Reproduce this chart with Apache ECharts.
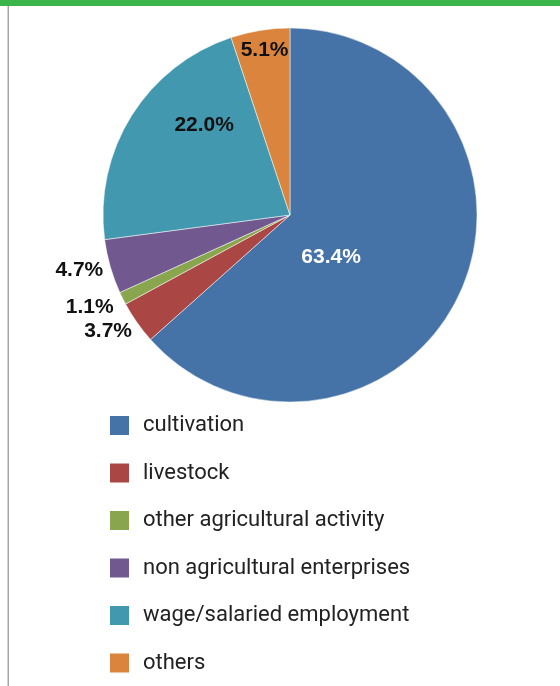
<!DOCTYPE html>
<html>
<head>
<meta charset="utf-8">
<script src="https://cdn.jsdelivr.net/npm/echarts@6/dist/echarts.min.js"></script>
<style>
  html, body { margin: 0; padding: 0; background: #fff; }
  #main { width: 560px; height: 686px; }
</style>
</head>
<body>
<div id="main"></div>
<script>
// 数据
var categories = ['cultivation', 'livestock', 'other agricultural activity',
                  'non agricultural enterprises', 'wage/salaried employment', 'others'];
var shares = [63.4, 3.7, 1.1, 4.7, 22.0, 5.1];
var colors = ['#4572A7', '#AA4643', '#89A54E', '#71588F', '#4198AF', '#DB843D'];

// 标签位置: 大块放在扇区内, 小块放在外面
var labelPos = ['inside', 'outside', 'outside', 'outside', 'inside', 'inside'];
var labelShift = [[-47, 3], [0, 9], [-4, 9], [-2, 4], [-4, -39], [-10, -70]];

var myChart = echarts.init(document.getElementById('main'));

var pieData = categories.map(function (name, i) {
    return {
        name: name,
        value: shares[i],
        itemStyle: { color: colors[i] },
        label: {
            position: labelPos[i],
            color: i === 0 ? '#fff' : '#111'
        }
    };
});

var option = {
    backgroundColor: '#fff',
    animation: false,
    graphic: [
        { type: 'rect', shape: { x: 0, y: 0, width: 560, height: 6 }, style: { fill: '#3BB54A' } },
        { type: 'rect', shape: { x: 7.5, y: 6, width: 1.5, height: 680 }, style: { fill: '#A6A6A6' } }
    ],
    legend: {
        orient: 'vertical',
        left: 108,
        top: 414,
        height: 320,
        padding: 0,
        icon: 'rect',
        itemWidth: 21,
        itemHeight: 21,
        itemGap: 24.5,
        textStyle: {
            fontFamily: 'Roboto',
            fontSize: 22,
            lineHeight: 21,
            color: '#222',
            padding: [0, 0, 0, 8]
        },
        data: categories
    },
    series: [{
        type: 'pie',
        center: [290, 215],
        radius: 187,
        startAngle: 90,
        clockwise: true,
        avoidLabelOverlap: false,
        itemStyle: { borderColor: '#fff', borderWidth: 0.5 },
        label: {
            show: true,
            formatter: function (p) { return p.value.toFixed(1) + '%'; },
            fontFamily: '"Liberation Sans", Arial',
            fontWeight: 'bold',
            fontSize: 21,
            distanceToLabelLine: 5
        },
        labelLine: { show: false, length: 0, length2: 0 },
        labelLayout: function (params) {
            var s = labelShift[params.dataIndex];
            return { dx: s[0], dy: s[1] };
        },
        data: pieData
    }]
};

myChart.setOption(option);
</script>
</body>
</html>
